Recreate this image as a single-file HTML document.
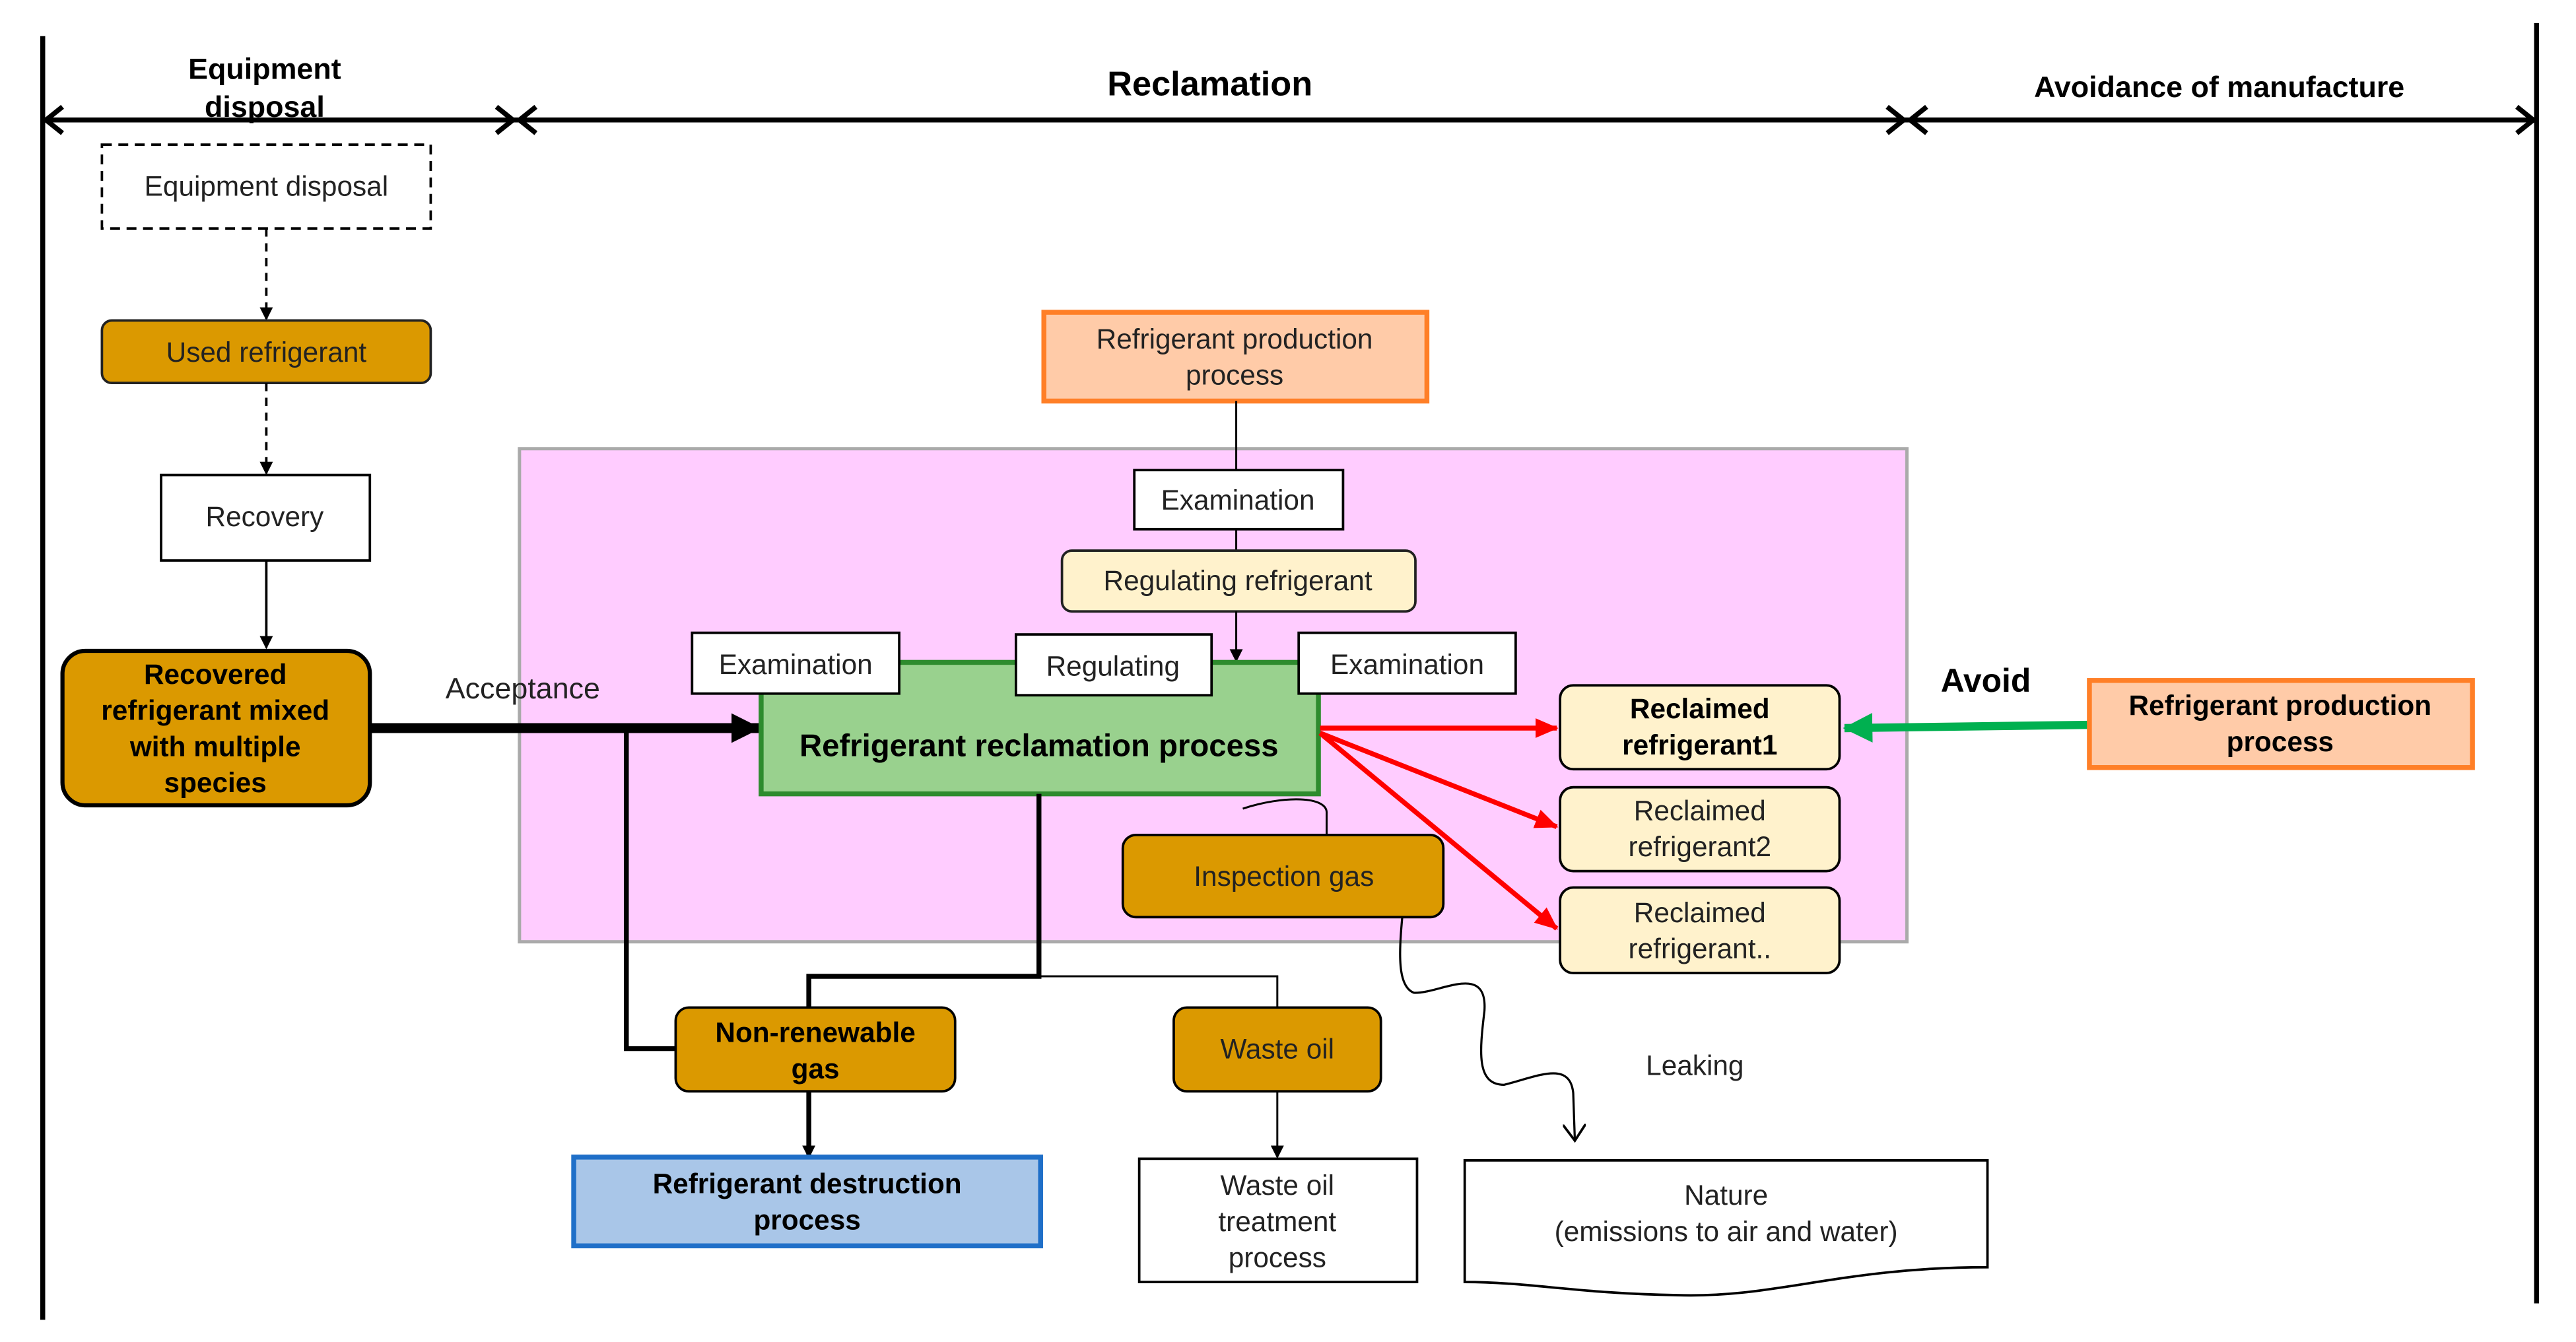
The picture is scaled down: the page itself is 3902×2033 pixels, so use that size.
<!DOCTYPE html>
<html><head><meta charset="utf-8"><style>
html,body{margin:0;padding:0;background:#fff;}
svg{display:block;}
text{font-family:"Liberation Sans","Noto Sans CJK JP",sans-serif;fill:#222;}
.b{font-weight:bold;fill:#000;}
</style></head><body>
<svg width="3902" height="2033" viewBox="0 0 1567 816.5" preserveAspectRatio="none" xmlns="http://www.w3.org/2000/svg">
<defs>
<marker id="ah" markerWidth="8" markerHeight="8" refX="7" refY="4" orient="auto" markerUnits="userSpaceOnUse"><path d="M0,0 L8,4 L0,8 z" fill="#000"/></marker>
<marker id="ahr" markerWidth="14" markerHeight="12" refX="13" refY="6" orient="auto" markerUnits="userSpaceOnUse"><path d="M0,0 L14,6 L0,12 z" fill="#f00"/></marker>
<marker id="ahb" markerWidth="18" markerHeight="18" refX="17" refY="9" orient="auto" markerUnits="userSpaceOnUse"><path d="M0,0 L18,9 L0,18 z" fill="#000"/></marker>
<marker id="ahg" markerWidth="18" markerHeight="18" refX="17" refY="9" orient="auto" markerUnits="userSpaceOnUse"><path d="M0,0 L18,9 L0,18 z" fill="#00B050"/></marker>
<marker id="aho" markerWidth="12" markerHeight="14" refX="10" refY="7" orient="auto" markerUnits="userSpaceOnUse"><path d="M0,0 L10,7 L0,14" fill="none" stroke="#000" stroke-width="1.5"/></marker>
</defs>
<!-- frame -->
<line x1="26" y1="22" x2="26" y2="803" stroke="#000" stroke-width="3"/>
<line x1="1543" y1="14" x2="1543" y2="793" stroke="#000" stroke-width="3"/>
<line x1="26" y1="73" x2="1543" y2="73" stroke="#000" stroke-width="3"/>
<g fill="none" stroke="#000" stroke-width="3">
<path d="M38,65 L28,73 L38,81"/>
<path d="M302,65 L312,73 L302,81 M326,65 L316,73 L326,81"/>
<path d="M1148,65 L1158,73 L1148,81 M1172,65 L1162,73 L1172,81"/>
<path d="M1531,65 L1541,73 L1531,81"/>
</g>
<text class="b" x="161" y="48" font-size="18" text-anchor="middle">Equipment</text>
<text class="b" x="161" y="71" font-size="18" text-anchor="middle">disposal</text>
<text class="b" x="736" y="58" font-size="21" text-anchor="middle">Reclamation</text>
<text class="b" x="1350" y="59" font-size="18" text-anchor="middle">Avoidance of manufacture</text>

<!-- pink region -->
<rect x="316" y="273" width="844" height="300" fill="#FFCCFF" stroke="#aaa" stroke-width="2"/>

<!-- left column -->
<rect x="62" y="88" width="200" height="51" fill="#fff" stroke="#000" stroke-width="1.5" stroke-dasharray="6,4"/>
<text x="162" y="119" font-size="17" text-anchor="middle">Equipment disposal</text>
<line x1="162" y1="139" x2="162" y2="194" stroke="#000" stroke-width="1.5" stroke-dasharray="5,4" marker-end="url(#ah)"/>
<rect x="62" y="195" width="200" height="38" rx="6" fill="#DB9900" stroke="#222" stroke-width="1.5"/>
<text x="162" y="220" font-size="17" text-anchor="middle">Used refrigerant</text>
<line x1="162" y1="233" x2="162" y2="288" stroke="#000" stroke-width="1.5" stroke-dasharray="5,4" marker-end="url(#ah)"/>
<rect x="98" y="289" width="127" height="52" fill="#fff" stroke="#000" stroke-width="1.5"/>
<text x="161" y="320" font-size="17" text-anchor="middle">Recovery</text>
<line x1="162" y1="341" x2="162" y2="394" stroke="#000" stroke-width="1.5" marker-end="url(#ah)"/>
<rect x="38" y="396" width="187" height="94" rx="14" fill="#DB9900" stroke="#000" stroke-width="2.5"/>
<text class="b" x="131" y="416" font-size="17" text-anchor="middle">Recovered</text>
<text class="b" x="131" y="438" font-size="17" text-anchor="middle">refrigerant mixed</text>
<text class="b" x="131" y="460" font-size="17" text-anchor="middle">with multiple</text>
<text class="b" x="131" y="482" font-size="17" text-anchor="middle">species</text>

<!-- acceptance -->
<text x="318" y="425" font-size="18" text-anchor="middle">Acceptance</text>
<line x1="225" y1="443" x2="462" y2="443" stroke="#000" stroke-width="6" marker-end="url(#ahb)"/>
<polyline points="381,443 381,638 411,638" fill="none" stroke="#000" stroke-width="3"/>

<!-- top production -->
<rect x="635" y="190" width="233" height="54" fill="#FFCBA8" stroke="#FF7F27" stroke-width="3"/>
<text x="751" y="212" font-size="17" text-anchor="middle">Refrigerant production</text>
<text x="751" y="234" font-size="17" text-anchor="middle">process</text>
<line x1="752" y1="244" x2="752" y2="286" stroke="#000" stroke-width="1.2"/>
<rect x="690" y="286" width="127" height="36" fill="#fff" stroke="#000" stroke-width="1.5"/>
<text x="753" y="310" font-size="17" text-anchor="middle">Examination</text>
<line x1="752" y1="322" x2="752" y2="335" stroke="#000" stroke-width="1.2"/>
<rect x="646" y="335" width="215" height="37" rx="6" fill="#FFF2CC" stroke="#222" stroke-width="1.5"/>
<text x="753" y="359" font-size="17" text-anchor="middle">Regulating refrigerant</text>
<line x1="752" y1="372" x2="752" y2="402" stroke="#000" stroke-width="1.2" marker-end="url(#ah)"/>

<!-- green -->
<rect x="463" y="403" width="339" height="80" fill="#99D18E" stroke="#2E8B2E" stroke-width="3"/>
<text class="b" x="632" y="460" font-size="19" text-anchor="middle">Refrigerant reclamation process</text>
<rect x="421" y="385" width="126" height="37" fill="#fff" stroke="#000" stroke-width="1.5"/>
<text x="484" y="410" font-size="17" text-anchor="middle">Examination</text>
<rect x="618" y="386" width="119" height="37" fill="#fff" stroke="#000" stroke-width="1.5"/>
<text x="677" y="411" font-size="17" text-anchor="middle">Regulating</text>
<rect x="790" y="385" width="132" height="37" fill="#fff" stroke="#000" stroke-width="1.5"/>
<text x="856" y="410" font-size="17" text-anchor="middle">Examination</text>

<!-- red arrows -->
<g stroke="#f00" stroke-width="3" fill="none">
<line x1="803" y1="443" x2="947" y2="443" marker-end="url(#ahr)"/>
<line x1="803" y1="446" x2="947" y2="503" marker-end="url(#ahr)"/>
<line x1="803" y1="446" x2="947" y2="565" marker-end="url(#ahr)"/>
</g>

<!-- reclaimed -->
<rect x="949" y="417" width="170" height="51" rx="8" fill="#FFF2CC" stroke="#000" stroke-width="1.5"/>
<text class="b" x="1034" y="437" font-size="17" text-anchor="middle">Reclaimed</text>
<text class="b" x="1034" y="459" font-size="17" text-anchor="middle">refrigerant1</text>
<rect x="949" y="479" width="170" height="51" rx="8" fill="#FFF2CC" stroke="#000" stroke-width="1.5"/>
<text x="1034" y="499" font-size="17" text-anchor="middle">Reclaimed</text>
<text x="1034" y="521" font-size="17" text-anchor="middle">refrigerant2</text>
<rect x="949" y="540" width="170" height="52" rx="8" fill="#FFF2CC" stroke="#000" stroke-width="1.5"/>
<text x="1034" y="561" font-size="17" text-anchor="middle">Reclaimed</text>
<text x="1034" y="583" font-size="17" text-anchor="middle">refrigerant..</text>

<!-- avoid -->
<text class="b" x="1208" y="421" font-size="20" text-anchor="middle">Avoid</text>
<line x1="1271" y1="441" x2="1122" y2="443" stroke="#00B050" stroke-width="5" marker-end="url(#ahg)"/>
<rect x="1271" y="414" width="233" height="53" fill="#FFCBA8" stroke="#FF7F27" stroke-width="3"/>
<text class="b" x="1387" y="435" font-size="17" text-anchor="middle">Refrigerant production</text>
<text class="b" x="1387" y="457" font-size="17" text-anchor="middle">process</text>

<!-- bottom lines -->
<polyline points="632,483 632,594 492,594 492,613" fill="none" stroke="#000" stroke-width="3"/>
<polyline points="632,594 777,594 777,613" fill="none" stroke="#000" stroke-width="1.2"/>
<rect x="411" y="613" width="170" height="51" rx="8" fill="#DB9900" stroke="#000" stroke-width="1.5"/>
<text class="b" x="496" y="634" font-size="17" text-anchor="middle">Non-renewable</text>
<text class="b" x="496" y="656" font-size="17" text-anchor="middle">gas</text>
<line x1="492" y1="664" x2="492" y2="704" stroke="#000" stroke-width="3" marker-end="url(#ah)"/>
<rect x="349" y="704" width="284" height="54" fill="#A9C6E8" stroke="#1F6FC8" stroke-width="3"/>
<text class="b" x="491" y="726" font-size="17" text-anchor="middle">Refrigerant destruction</text>
<text class="b" x="491" y="748" font-size="17" text-anchor="middle">process</text>

<rect x="714" y="613" width="126" height="51" rx="8" fill="#DB9900" stroke="#000" stroke-width="1.5"/>
<text x="777" y="644" font-size="17" text-anchor="middle">Waste oil</text>
<line x1="777" y1="664" x2="777" y2="704" stroke="#000" stroke-width="1.2" marker-end="url(#ah)"/>
<rect x="693" y="705" width="169" height="75" fill="#fff" stroke="#000" stroke-width="1.5"/>
<text x="777" y="727" font-size="17" text-anchor="middle">Waste oil</text>
<text x="777" y="749" font-size="17" text-anchor="middle">treatment</text>
<text x="777" y="771" font-size="17" text-anchor="middle">process</text>

<!-- inspection gas -->
<path d="M756,492 C780,484 808,484 807,495 L807,508" fill="none" stroke="#000" stroke-width="1.2"/>
<rect x="683" y="508" width="195" height="50" rx="8" fill="#DB9900" stroke="#000" stroke-width="1.5"/>
<text x="781" y="539" font-size="17" text-anchor="middle">Inspection gas</text>
<path d="M853,558 C851,580 850,600 860,604 C875,605 905,585 903,615 C900,640 898,660 915,660 C935,655 955,645 957,665 L958,694" fill="none" stroke="#000" stroke-width="1.3" marker-end="url(#aho)"/>
<text x="1031" y="654" font-size="17" text-anchor="middle">Leaking</text>
<path d="M891,706 L1209,706 L1209,771 C1120,771 1080,790 1020,788 C960,787 930,780 891,780 Z" fill="#fff" stroke="#000" stroke-width="1.5"/>
<text x="1050" y="733" font-size="17" text-anchor="middle">Nature</text>
<text x="1050" y="755" font-size="17" text-anchor="middle">(emissions to air and water)</text>
</svg>
</body></html>
